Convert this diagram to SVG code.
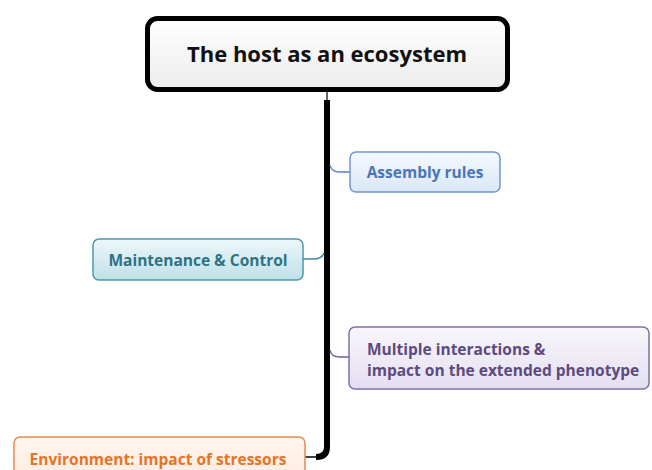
<svg xmlns="http://www.w3.org/2000/svg" width="652" height="470" viewBox="0 0 652 470">
<defs>
<linearGradient id="gRoot" x1="0" y1="0" x2="0" y2="1"><stop offset="0" stop-color="#ffffff"/><stop offset="1" stop-color="#ececec"/></linearGradient>
<linearGradient id="gBlue" x1="0" y1="0" x2="0" y2="1"><stop offset="0" stop-color="#f5f9fe"/><stop offset="1" stop-color="#dbe7f6"/></linearGradient>
<linearGradient id="gTeal" x1="0" y1="0" x2="0" y2="1"><stop offset="0" stop-color="#eef8fa"/><stop offset="1" stop-color="#bfdfe8"/></linearGradient>
<linearGradient id="gPurple" x1="0" y1="0" x2="0" y2="1"><stop offset="0" stop-color="#f8f6fb"/><stop offset="1" stop-color="#e4dff0"/></linearGradient>
<linearGradient id="gOrange" x1="0" y1="0" x2="0" y2="1"><stop offset="0" stop-color="#fff6f0"/><stop offset="1" stop-color="#fde9dc"/></linearGradient>
</defs>
<style>
text{font-family:"Open Sans","Noto Sans","DejaVu Sans",sans-serif;font-weight:bold}
.t{font-size:15.5px}
.c{fill:none;stroke-width:1.5}
</style>
<rect width="652" height="470" fill="#ffffff"/>
<g id="connectors">
<line x1="327" y1="92" x2="327" y2="101" stroke="#000" stroke-width="1.2"/>
<path d="M327,100 V447 Q327,457 316,457" fill="none" stroke="#000" stroke-width="6"/>
<path d="M318,457 H305" fill="none" stroke="#000" stroke-width="1.5"/>
<path class="c" d="M330,165 Q331,172 340,172 H350" stroke="#5b83c0"/>
<path class="c" d="M324,253 Q322,259 313,259 H303" stroke="#3e8a9c"/>
<path class="c" d="M330,350 Q331,357 340,357 H349" stroke="#6d5e92"/>
</g>
<g id="root">
<rect x="147.5" y="18.5" width="360" height="71" rx="10" fill="url(#gRoot)" stroke="#000" stroke-width="5"/>
<text x="327" y="62" font-size="22" text-anchor="middle" fill="#111">The host as an ecosystem</text>
</g>
<g id="assembly">
<rect x="350" y="152" width="150" height="40" rx="6" fill="url(#gBlue)" stroke="#6f97cf" stroke-width="1.5"/>
<text class="t" x="425" y="178" text-anchor="middle" fill="#4b76b5">Assembly rules</text>
</g>
<g id="maintenance">
<rect x="93" y="239" width="210" height="41" rx="6" fill="url(#gTeal)" stroke="#4e98a8" stroke-width="1.5"/>
<text class="t" x="198" y="266" text-anchor="middle" fill="#2e7385">Maintenance &amp; Control</text>
</g>
<g id="multiple">
<rect x="349" y="327" width="300" height="62" rx="6" fill="url(#gPurple)" stroke="#8170a8" stroke-width="1.5"/>
<text class="t" x="367" y="355" fill="#5c4a80">Multiple interactions &amp;</text>
<text class="t" x="367" y="376" fill="#5c4a80">impact on the extended phenotype</text>
</g>
<g id="environment">
<rect x="14" y="437" width="291" height="45" rx="6" fill="url(#gOrange)" stroke="#ea8a4f" stroke-width="1.5"/>
<text class="t" x="158" y="465" text-anchor="middle" fill="#e37528">Environment: impact of stressors</text>
</g>
</svg>
